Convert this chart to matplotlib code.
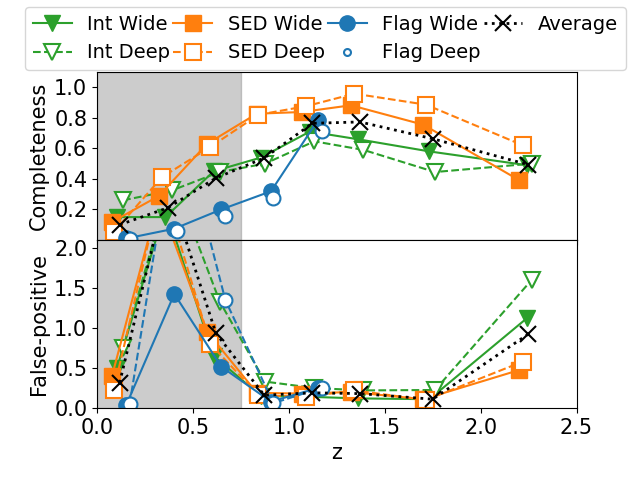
import matplotlib
matplotlib.use("Agg")
import matplotlib.pyplot as plt
from matplotlib.lines import Line2D

plt.rcParams['font.size'] = 15

# mean redshift of each bin, per sample
z_int_wide = [0.104, 0.357, 0.608, 0.855, 1.11, 1.359, 1.733, 2.24]
z_int_deep = [0.136, 0.391, 0.64, 0.876, 1.133, 1.389, 1.762, 2.266]
z_sed_wide = [0.078, 0.322, 0.574, 0.833, 1.067, 1.324, 1.701, 2.202]
z_sed_deep = [0.087, 0.339, 0.591, 0.841, 1.09, 1.342, 1.715, 2.22]
z_flag_wide = [0.153, 0.403, 0.648, 0.907, 1.151]
z_flag_deep = [0.17, 0.417, 0.669, 0.919, 1.172]
z_avg = [0.118, 0.368, 0.62, 0.872, 1.123, 1.371, 1.75, 2.249]

# completeness
c_int_wide = [0.15, 0.15, 0.45, 0.54, 0.71, 0.66, 0.58, 0.49]
c_int_deep = [0.26, 0.325, 0.445, 0.50, 0.646, 0.59, 0.445, 0.50]
c_sed_wide = [0.118, 0.288, 0.63, 0.827, 0.838, 0.882, 0.755, 0.391]
c_sed_deep = [0.052, 0.412, 0.609, 0.82, 0.876, 0.958, 0.886, 0.62]
c_flag_wide = [0.01, 0.074, 0.20, 0.319, 0.784]
c_flag_deep = [0.005, 0.057, 0.157, 0.275, 0.712]
c_avg = [0.10, 0.21, 0.406, 0.537, 0.764, 0.773, 0.663, 0.493]

# false-positive rate
f_int_wide = [0.5, 2.5, 0.65, 0.15, 0.14, 0.12, 0.11, 1.12]
f_int_deep = [0.75, 2.9, 1.33, 0.33, 0.25, 0.22, 0.225, 1.6]
f_sed_wide = [0.40, 2.6, 0.954, 0.19, 0.18, 0.20, 0.11, 0.475]
f_sed_deep = [0.225, 2.8, 0.80, 0.16, 0.14, 0.22, 0.10, 0.58]
f_flag_wide = [0.04, 1.425, 0.516, 0.08, 0.25]
f_flag_deep = [0.05, 3.7, 1.35, 0.06, 0.254]
f_avg = [0.317, 2.8, 0.933, 0.16, 0.19, 0.18, 0.11, 0.925]

fig = plt.figure(figsize=(6.4, 4.8), dpi=100)
ax1 = fig.add_axes([0.1516, 0.5, 0.7492, 0.35])
ax2 = fig.add_axes([0.1516, 0.15, 0.7492, 0.35], sharex=ax1)

ms = 11
for ax, vals, flag_ls in [(ax1, (c_int_wide, c_int_deep, c_sed_wide, c_sed_deep, c_flag_wide, c_flag_deep, c_avg), 'none'),
                          (ax2, (f_int_wide, f_int_deep, f_sed_wide, f_sed_deep, f_flag_wide, f_flag_deep, f_avg), '--')]:
    ax.axvspan(0, 0.75, color='grey', alpha=0.4)
    ax.plot(z_int_wide, vals[0], 'v-', color='tab:green', ms=ms, label='Int Wide')
    ax.plot(z_int_deep, vals[1], 'v--', color='tab:green', ms=ms, mfc='white', mew=1.5, label='Int Deep')
    ax.plot(z_sed_wide, vals[2], 's-', color='tab:orange', ms=ms, label='SED Wide')
    ax.plot(z_sed_deep, vals[3], 's--', color='tab:orange', ms=ms, mfc='white', mew=1.5, label='SED Deep')
    ax.plot(z_flag_wide, vals[4], 'o-', color='tab:blue', ms=ms, label='Flag Wide')
    ax.plot(z_flag_deep, vals[5], marker='o', ls=flag_ls, color='tab:blue', ms=10, mfc='white', mew=1.5)
    ax.plot(z_avg, vals[6], 'x:', color='black', ms=12, lw=2, mew=1.5, label='Average')

ax1.set_xlim(0, 2.5)
ax1.set_ylim(0, 1.1)
ax1.set_yticks([0.2, 0.4, 0.6, 0.8, 1.0])
ax1.tick_params(labelbottom=False)
ax1.set_ylabel('Completeness')

ax2.set_ylim(0, 2.1)
ax2.set_yticks([0.0, 0.5, 1.0, 1.5, 2.0])
ax2.set_ylabel('False-positive')
ax2.set_xlabel('z')
fig.align_ylabels([ax1, ax2])

handles, labels = ax1.get_legend_handles_labels()
flag_deep = Line2D([], [], marker='o', ls='none', color='tab:blue', ms=5, mfc='white', mew=1.5)
handles = handles[:5] + [flag_deep] + handles[5:]
labels = labels[:5] + ['Flag Deep'] + labels[5:]
fig.legend(handles, labels, loc='upper center', bbox_to_anchor=(0.5086, 1.006), ncol=4,
           fontsize=14, columnspacing=0.15, handlelength=2.0)

fig.savefig('out.png', dpi=100)
